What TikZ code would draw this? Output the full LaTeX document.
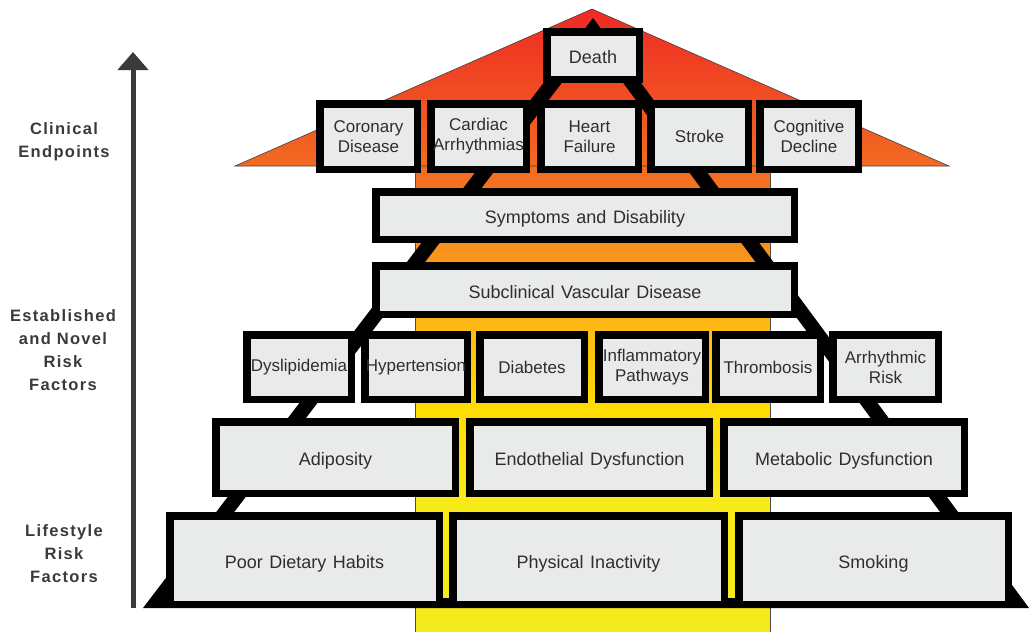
\documentclass[tikz,border=0pt]{standalone}
\usepackage{fontspec}
\setmainfont{Liberation Sans}
\newfontfamily\labfont[LetterSpace=8]{Liberation Sans}
\newfontfamily\boxfont[WordSpace=1.3]{Liberation Sans}
\usetikzlibrary{arrows.meta}
\definecolor{boxgray}{HTML}{E9EAEA}
\definecolor{txt}{HTML}{2E2E2E}
\definecolor{labgray}{HTML}{3A3A3A}
\definecolor{roofred}{HTML}{EE2A24}
\definecolor{rooforange}{HTML}{F26A22}
\definecolor{bandA}{HTML}{F04A23}
\definecolor{bandB}{HTML}{F37021}
\definecolor{bandC}{HTML}{F7941D}
\definecolor{bandD}{HTML}{FDB913}
\definecolor{bandE}{HTML}{FFDD00}
\definecolor{bandF}{HTML}{F8EB1A}
\definecolor{bandG}{HTML}{F4EB1C}
\tikzset{
  bxbase/.style={draw=black, line width=7.5pt, fill=boxgray, inner sep=0pt, align=center, text=txt},
  bx/.style={bxbase, font=\boxfont\fontsize{18}{20}\selectfont, text height=16pt, text depth=0pt},
  bxs/.style={bxbase, font=\boxfont\fontsize{17}{20}\selectfont},
  lab/.style={align=center, text=labgray, font=\labfont\bfseries\fontsize{16.5}{23}\selectfont},
  axisarrow/.style={line width=5pt, draw=labgray, -{Triangle[width=30pt,length=18pt]}}
}
\begin{document}
\begin{tikzpicture}[x=1pt,y=-1pt]
\useasboundingbox (0,0) rectangle (1029,632);
% central band
\shade[top color=bandA, bottom color=bandB] (415,95) rectangle (770,180);
\shade[top color=bandB, bottom color=bandC] (415,180) rectangle (770,252);
\shade[top color=bandC, bottom color=bandD] (415,252) rectangle (770,325);
\shade[top color=bandD, bottom color=bandE] (415,325) rectangle (770,410);
\shade[top color=bandE, bottom color=bandF] (415,410) rectangle (770,505);
\shade[top color=bandF, bottom color=bandG] (415,505) rectangle (770,632);
\draw[black!70, line width=0.6pt] (415,166) -- (415,632) -- (770,632) -- (770,166);
% roof
\shadedraw[top color=roofred, bottom color=rooforange, draw=black!75, line width=0.6pt]
  (235,166) -- (592,9) -- (949,166) -- cycle;
% black pyramid outline
\fill[black, even odd rule] (593,18) -- (143,608) -- (1029,608) -- cycle
  (593,42) -- (168.6,598) -- (1003.6,598) -- cycle;
% boxes
\node[bx, minimum width=92.5pt, minimum height=47.5pt] (death) at (593,55.5) {Death};
\node[bxs, minimum width=97.5pt, minimum height=65.5pt] (coronary) at (368.5,136.5) {Coronary\\Disease};
\node[bxs, minimum width=95.5pt, minimum height=65.5pt] (cardiac) at (478.5,136.5) {Cardiac\\Arrhythmias};
\node[bxs, minimum width=97.5pt, minimum height=65.5pt] (heart) at (589.5,136.5) {Heart\\Failure};
\node[bxs, minimum width=97.5pt, minimum height=65.5pt] (stroke) at (699.5,136.5) {Stroke};
\node[bxs, minimum width=98.5pt, minimum height=65.5pt] (cognitive) at (809,136.5) {Cognitive\\Decline};
\node[bx, minimum width=418.5pt, minimum height=47.5pt] (symptoms) at (585,215.5) {Symptoms and Disability};
\node[bx, minimum width=418.5pt, minimum height=48.5pt] (subclin) at (585,290) {Subclinical Vascular Disease};
\node[bxs, minimum width=104.5pt, minimum height=64.5pt] (dysl) at (299,367) {Dyslipidemia};
\node[bxs, minimum width=102.5pt, minimum height=64.5pt] (hyper) at (416,367) {Hypertension};
\node[bxs, minimum width=104.5pt, minimum height=64.5pt] (diab) at (532,367) {Diabetes};
\node[bxs, minimum width=106.5pt, minimum height=64.5pt] (infl) at (652,367) {Inflammatory\\Pathways};
\node[bxs, minimum width=104.5pt, minimum height=64.5pt] (thromb) at (768,367) {Thrombosis};
\node[bxs, minimum width=105.5pt, minimum height=64.5pt] (arrh) at (885.5,367) {Arrhythmic\\Risk};
\node[bx, minimum width=239.5pt, minimum height=71.5pt] (adip) at (335.5,457.5) {Adiposity};
\node[bx, minimum width=239.5pt, minimum height=71.5pt] (endo) at (589.5,457.5) {Endothelial Dysfunction};
\node[bx, minimum width=240.5pt, minimum height=71.5pt] (metab) at (844,457.5) {Metabolic Dysfunction};
\node[bx, minimum width=269.5pt, minimum height=88.5pt] (poor) at (304.5,560) {Poor Dietary Habits};
\node[bx, minimum width=271.5pt, minimum height=88.5pt] (phys) at (588.5,560) {Physical Inactivity};
\node[bx, minimum width=269.5pt, minimum height=88.5pt] (smok) at (873.5,560) {Smoking};
% axis arrow
\coordinate (arrS) at (133,608);
\coordinate (arrE) at (133,52);
\draw[axisarrow] (arrS) -- (arrE);
% level labels
\node[lab] (lclin) at (64,141.5) {Clinical\\Endpoints};
\node[lab] (lrisk) at (63,350) {Established\\and Novel\\Risk\\Factors};
\node[lab] (llife) at (64,553.5) {Lifestyle\\Risk\\Factors};
\end{tikzpicture}
\end{document}
